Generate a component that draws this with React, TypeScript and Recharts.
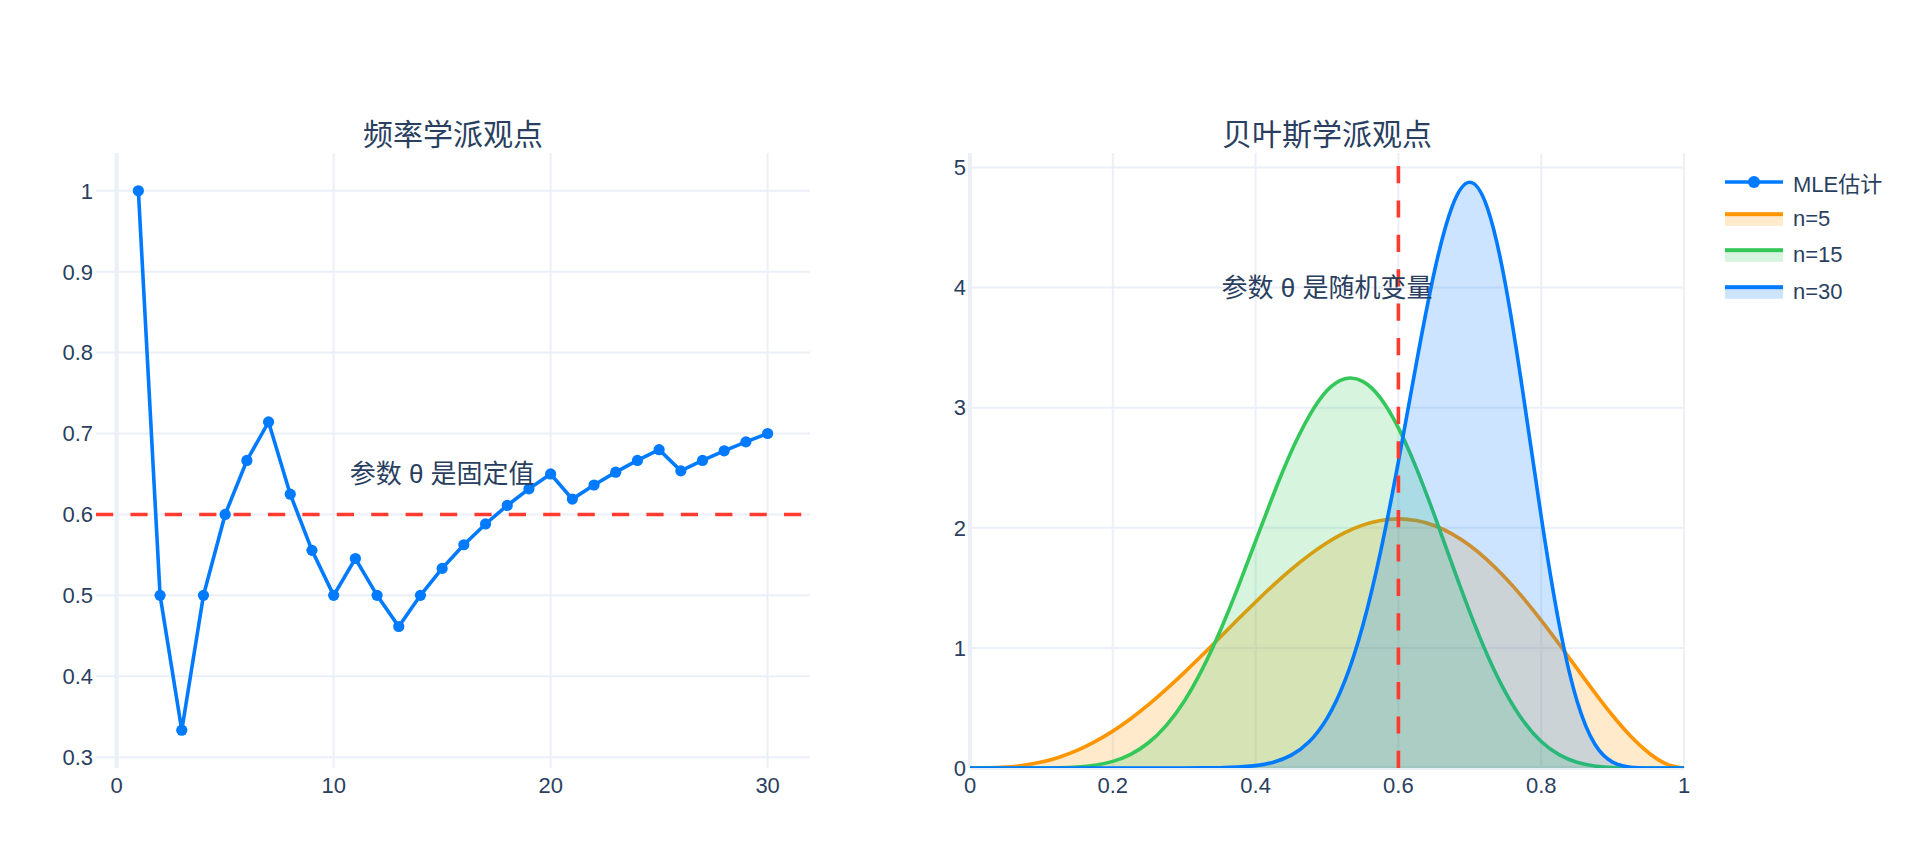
import React from 'react';
import {
  ComposedChart,
  Line,
  Area,
  XAxis,
  YAxis,
  CartesianGrid,
  ReferenceLine,
  ReferenceDot,
} from 'recharts';

// sample sizes and running MLE (k/n)
const sampleSizes = [
  1, 2, 3, 4, 5, 6, 7, 8, 9, 10, 11, 12, 13, 14, 15, 16, 17, 18, 19, 20, 21, 22, 23, 24, 25, 26, 27, 28, 29, 30,
];
const mleEstimate = [
  1, 0.5, 0.3333, 0.5, 0.6, 0.6667, 0.7143, 0.625, 0.5556, 0.5, 0.5455, 0.5, 0.4615, 0.5, 0.5333,
  0.5625, 0.5882, 0.6111, 0.6316, 0.65, 0.619, 0.6364, 0.6522, 0.6667, 0.68, 0.6538, 0.6667, 0.6786, 0.6897, 0.7,
];

// posterior densities
const thetaGrid = [
  0, 0.025, 0.05, 0.075, 0.1, 0.125, 0.15, 0.175, 0.2, 0.225, 0.25, 0.275, 0.3, 0.325, 0.35, 0.375, 0.4,
  0.425, 0.45, 0.475, 0.5, 0.525, 0.55, 0.575, 0.6, 0.625, 0.65, 0.675, 0.7, 0.725, 0.75, 0.775, 0.8,
  0.825, 0.85, 0.875, 0.9, 0.925, 0.95, 0.975, 1,
];
const posteriorN5 = [
  0, 0.001, 0.007, 0.022, 0.049, 0.09, 0.146, 0.219, 0.307, 0.41, 0.527, 0.656, 0.794, 0.938, 1.087, 1.236,
  1.382, 1.523, 1.654, 1.772, 1.875, 1.959, 2.022, 2.06, 2.074, 2.06, 2.019, 1.949, 1.852, 1.729, 1.582,
  1.414, 1.229, 1.032, 0.829, 0.628, 0.437, 0.267, 0.129, 0.035, 0,
];
const posteriorN15 = [
  0, 0, 0, 0.0001, 0.0005, 0.0024, 0.0085, 0.0235, 0.055, 0.114, 0.21, 0.355, 0.556, 0.819, 1.137, 1.499,
  1.889, 2.277, 2.635, 2.93, 3.142, 3.241, 3.219, 3.08, 2.832, 2.499, 2.111, 1.699, 1.298, 0.934, 0.629,
  0.391, 0.221, 0.111, 0.048, 0.017, 0.0044, 0.0007, 0.0001, 0, 0,
];
const posteriorN30 = [
  0, 0, 0, 0, 0, 0, 0, 0, 0, 0, 0, 0, 0.0002, 0.0007, 0.0025, 0.0073, 0.0197, 0.048, 0.107, 0.218, 0.413,
  0.725, 1.183, 1.8, 2.55, 3.364, 4.121, 4.67, 4.876, 4.656, 4.023, 3.102, 2.094, 1.201, 0.562, 0.2,
  0.049, 0.0065, 0.0003, 0, 0,
];

const leftYTicks = [0.3, 0.4, 0.5, 0.6, 0.7, 0.8, 0.9, 1];
const leftXTicks = [0, 10, 20, 30];
const rightXTicks = [0, 0.2, 0.4, 0.6, 0.8, 1];
const rightYTicks = [0, 1, 2, 3, 4, 5];

const BLUE = '#007AFF';
const ORANGE = '#FF9500';
const GREEN = '#34C759';
const RED = '#FF3B30';
const GRID = '#EBF0F8';
const TEXT = '#2a3f5f';
const FONT = '"Liberation Sans", Arial, "Noto Sans CJK SC", sans-serif';
const CJK = '"Noto Sans CJK SC", sans-serif';

const mleData = sampleSizes.map((n, i) => ({ n, mle: mleEstimate[i] }));
const posteriorData = thetaGrid.map((theta, i) => ({
  theta,
  n5: posteriorN5[i],
  n15: posteriorN15[i],
  n30: posteriorN30[i],
}));

const tickStyle = { fill: TEXT, fontSize: 22, fontFamily: FONT };
const annoLabel = (value: string) => ({
  value,
  position: 'center' as const,
  fill: TEXT,
  fontSize: 26,
  fontFamily: FONT,
});

const areaSeries = [
  { key: 'n5', name: 'n=5', color: ORANGE },
  { key: 'n15', name: 'n=15', color: GREEN },
  { key: 'n30', name: 'n=30', color: BLUE },
];

const titleStyle: React.CSSProperties = {
  position: 'absolute',
  width: 714,
  top: 117,
  textAlign: 'center',
  fontSize: 30,
  lineHeight: '30px',
  fontFamily: CJK,
  color: TEXT,
};

const LegendRow: React.FC<{ top: number; name: string; color: string; kind: 'line' | 'area' }> = ({
  top,
  name,
  color,
  kind,
}) => (
  <div
    style={{
      position: 'absolute',
      left: 1725,
      top: top - 15,
      height: 30,
      display: 'flex',
      alignItems: 'center',
    }}
  >
    <svg width={58} height={30} style={{ display: 'block' }}>
      {kind === 'line' ? (
        <>
          <line x1={0} y1={15} x2={58} y2={15} stroke={color} strokeWidth={3.6} />
          <circle cx={29} cy={15} r={6} fill={color} />
        </>
      ) : (
        <>
          <rect x={0} y={12.2} width={58} height={9.6} fill={color} fillOpacity={0.2} />
          <rect x={0} y={8.2} width={58} height={4} fill={color} />
        </>
      )}
    </svg>
    <span style={{ marginLeft: 10, fontSize: 22, fontFamily: FONT, color: TEXT, whiteSpace: 'nowrap' }}>
      {name}
    </span>
  </div>
);

export default function App() {
  return (
    <div style={{ position: 'absolute', left: 0, top: 0, width: 1920, height: 864, background: '#fff', fontFamily: FONT }}>
      <div style={{ ...titleStyle, left: 96 }}>频率学派观点</div>
      <div style={{ ...titleStyle, left: 970 }}>贝叶斯学派观点</div>

      <div style={{ position: 'absolute', left: 0, top: 133 }}>
        <ComposedChart width={830} height={690} data={mleData} margin={{ top: 20, right: 20, bottom: 0, left: 0 }}>
          <CartesianGrid
            stroke={GRID}
            strokeWidth={2}
            horizontalValues={leftYTicks}
            verticalValues={leftXTicks.filter((t) => t !== 0)}
          />
          <CartesianGrid stroke={GRID} strokeWidth={4} horizontal={false} verticalValues={[0]} />
          <XAxis
            dataKey="n"
            type="number"
            domain={[-0.953, 31.953]}
            ticks={leftXTicks}
            interval={0}
            height={55}
            tickLine={false}
            axisLine={false}
            tickSize={0}
            tickMargin={9}
            tick={tickStyle}
            allowDataOverflow
          />
          <YAxis
            type="number"
            domain={[0.2866, 1.0467]}
            ticks={leftYTicks}
            interval={0}
            width={96}
            tickLine={false}
            axisLine={false}
            tickSize={0}
            tickMargin={3}
            tick={tickStyle}
            allowDataOverflow
          />
          <Line
            dataKey="mle"
            stroke={BLUE}
            strokeWidth={3.6}
            dot={{ r: 5.6, fill: BLUE, stroke: BLUE, strokeWidth: 0 }}
            activeDot={false}
            isAnimationActive={false}
          />
          <ReferenceLine y={0.6} stroke={RED} strokeWidth={3.6} strokeDasharray="17.2 17.2" />
          <ReferenceDot x={15} y={0.65} r={0} stroke="none" label={annoLabel('参数 θ 是固定值')} />
        </ComposedChart>
      </div>

      <div style={{ position: 'absolute', left: 900, top: 133 }}>
        <ComposedChart width={804} height={690} data={posteriorData} margin={{ top: 20, right: 20, bottom: 0, left: 0 }}>
          <CartesianGrid
            stroke={GRID}
            strokeWidth={2}
            horizontalValues={rightYTicks.filter((t) => t !== 0)}
            verticalValues={rightXTicks.filter((t) => t !== 0)}
          />
          <CartesianGrid stroke={GRID} strokeWidth={4} horizontalValues={[0]} verticalValues={[0]} />
          <XAxis
            dataKey="theta"
            type="number"
            domain={[0, 1]}
            ticks={rightXTicks}
            interval={0}
            height={55}
            tickLine={false}
            axisLine={false}
            tickSize={0}
            tickMargin={9}
            tick={tickStyle}
          />
          <YAxis
            type="number"
            domain={[0, 5.12]}
            ticks={rightYTicks}
            interval={0}
            width={70}
            tickLine={false}
            axisLine={false}
            tickSize={0}
            tickMargin={4}
            tick={tickStyle}
            allowDataOverflow
          />
          {areaSeries.map((s) => (
            <Area
              key={s.key}
              type="natural"
              dataKey={s.key}
              name={s.name}
              stroke={s.color}
              strokeWidth={3.6}
              fill={s.color}
              fillOpacity={0.2}
              dot={false}
              activeDot={false}
              isAnimationActive={false}
            />
          ))}
          <ReferenceLine x={0.6} stroke={RED} strokeWidth={3.6} strokeDasharray="17.2 17.2" />
          <ReferenceDot x={0.5} y={4} r={0} stroke="none" label={annoLabel('参数 θ 是随机变量')} />
        </ComposedChart>
      </div>

      <LegendRow top={182} name="MLE估计" color={BLUE} kind="line" />
      {areaSeries.map((s, i) => (
        <LegendRow key={s.key} top={218.5 + i * 36.7} name={s.name} color={s.color} kind="area" />
      ))}
    </div>
  );
}
